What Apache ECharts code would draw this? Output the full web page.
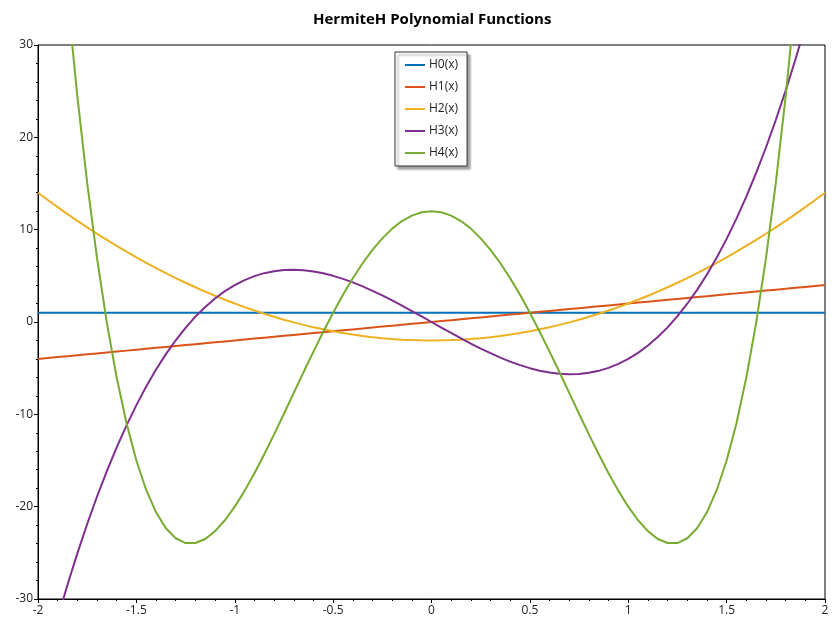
<!DOCTYPE html>
<html>
<head>
<meta charset="utf-8">
<script src="https://cdn.jsdelivr.net/npm/echarts@6/dist/echarts.min.js"></script>
<style>html,body{margin:0;padding:0;background:#fff;}#c{width:840px;height:630px;}</style>
</head>
<body>
<div id="c"></div>
<script>
var xs = [-2,-1.95,-1.9,-1.85,-1.8,-1.75,-1.7,-1.65,-1.6,-1.55,-1.5,-1.45,-1.4,-1.35,-1.3,-1.25,-1.2,-1.15,-1.1,-1.05,-1,-0.95,-0.9,-0.85,-0.8,-0.75,-0.7,-0.65,-0.6,-0.55,-0.5,-0.45,-0.4,-0.35,-0.3,-0.25,-0.2,-0.15,-0.1,-0.05,0,0.05,0.1,0.15,0.2,0.25,0.3,0.35,0.4,0.45,0.5,0.55,0.6,0.65,0.7,0.75,0.8,0.85,0.9,0.95,1,1.05,1.1,1.15,1.2,1.25,1.3,1.35,1.4,1.45,1.5,1.55,1.6,1.65,1.7,1.75,1.8,1.85,1.9,1.95,2];
var h0 = [1,1,1,1,1,1,1,1,1,1,1,1,1,1,1,1,1,1,1,1,1,1,1,1,1,1,1,1,1,1,1,1,1,1,1,1,1,1,1,1,1,1,1,1,1,1,1,1,1,1,1,1,1,1,1,1,1,1,1,1,1,1,1,1,1,1,1,1,1,1,1,1,1,1,1,1,1,1,1,1,1];
var h1 = [-4,-3.9,-3.8,-3.7,-3.6,-3.5,-3.4,-3.3,-3.2,-3.1,-3,-2.9,-2.8,-2.7,-2.6,-2.5,-2.4,-2.3,-2.2,-2.1,-2,-1.9,-1.8,-1.7,-1.6,-1.5,-1.4,-1.3,-1.2,-1.1,-1,-0.9,-0.8,-0.7,-0.6,-0.5,-0.4,-0.3,-0.2,-0.1,0,0.1,0.2,0.3,0.4,0.5,0.6,0.7,0.8,0.9,1,1.1,1.2,1.3,1.4,1.5,1.6,1.7,1.8,1.9,2,2.1,2.2,2.3,2.4,2.5,2.6,2.7,2.8,2.9,3,3.1,3.2,3.3,3.4,3.5,3.6,3.7,3.8,3.9,4];
var h2 = [14,13.21,12.44,11.69,10.96,10.25,9.56,8.89,8.24,7.61,7,6.41,5.84,5.29,4.76,4.25,3.76,3.29,2.84,2.41,2,1.61,1.24,0.89,0.56,0.25,-0.04,-0.31,-0.56,-0.79,-1,-1.19,-1.36,-1.51,-1.64,-1.75,-1.84,-1.91,-1.96,-1.99,-2,-1.99,-1.96,-1.91,-1.84,-1.75,-1.64,-1.51,-1.36,-1.19,-1,-0.79,-0.56,-0.31,-0.04,0.25,0.56,0.89,1.24,1.61,2,2.41,2.84,3.29,3.76,4.25,4.76,5.29,5.84,6.41,7,7.61,8.24,8.89,9.56,10.25,10.96,11.69,12.44,13.21,14];
var h3 = [-40,-35.92,-32.07,-28.45,-25.06,-21.88,-18.9,-16.14,-13.57,-11.19,-9,-6.99,-5.15,-3.48,-1.98,-0.63,0.58,1.63,2.55,3.34,4,4.54,4.97,5.29,5.5,5.63,5.66,5.6,5.47,5.27,5,4.67,4.29,3.86,3.38,2.88,2.34,1.77,1.19,0.6,0,-0.6,-1.19,-1.77,-2.34,-2.88,-3.38,-3.86,-4.29,-4.67,-5,-5.27,-5.47,-5.6,-5.66,-5.63,-5.5,-5.29,-4.97,-4.54,-4,-3.34,-2.55,-1.63,-0.58,0.63,1.98,3.48,5.15,6.99,9,11.19,13.57,16.14,18.9,21.88,25.06,28.45,32.07,35.92,40];
var h4 = [76,60.82,47.23,35.14,24.44,15.06,6.91,-0.09,-6.02,-10.97,-15,-18.19,-20.61,-22.34,-23.42,-23.94,-23.94,-23.5,-22.65,-21.47,-20,-18.29,-16.38,-14.33,-12.17,-9.94,-7.68,-5.42,-3.21,-1.06,1,2.94,4.73,6.36,7.81,9.06,10.11,10.93,11.52,11.88,12,11.88,11.52,10.93,10.11,9.06,7.81,6.36,4.73,2.94,1,-1.06,-3.21,-5.42,-7.68,-9.94,-12.17,-14.33,-16.38,-18.29,-20,-21.47,-22.65,-23.5,-23.94,-23.94,-23.42,-22.34,-20.61,-18.19,-15,-10.97,-6.02,-0.09,6.91,15.06,24.44,35.14,47.23,60.82,76];
var names = ['H0(x)','H1(x)','H2(x)','H3(x)','H4(x)'];
var colors = ['#0072BD','#D95319','#EDB120','#7E2F8E','#77AC30'];
var values = [h0,h1,h2,h3,h4];

function pairs(ys){ return xs.map(function(x,i){ return [x, ys[i]]; }); }

var series = values.map(function(v,i){
  return {
    name: names[i], type: 'line', data: pairs(v), symbol: 'none', clip: true,
    lineStyle: { width: 2, color: colors[i] }, itemStyle: { color: colors[i] },
    emphasis: { disabled: true }
  };
});

var font = '"Open Sans", "Noto Sans", sans-serif';
var chart = echarts.init(document.getElementById('c'), null, { renderer: 'canvas' });
chart.setOption({
  animation: false,
  backgroundColor: '#fff',
  title: {
    text: 'HermiteH Polynomial Functions', left: 308, top: 7,
    textStyle: { fontFamily: font, fontSize: 15, fontWeight: 'bold', color: '#000' }
  },
  legend: {
    orient: 'vertical', left: 395, top: 52,
    data: names.map(function(n){ return { name: n, icon: 'rect' }; }),
    itemWidth: 20, itemHeight: 2, itemGap: 8,
    padding: [6, 9, 6, 10],
    backgroundColor: '#fff', borderColor: '#333', borderWidth: 1, borderRadius: 0,
    shadowColor: 'rgba(0,0,0,0.35)', shadowBlur: 2, shadowOffsetX: 3, shadowOffsetY: 3,
    textStyle: { fontFamily: font, fontSize: 12, lineHeight: 14, color: '#222', padding: [0,0,0,-1] }
  },
  grid: { left: 38, right: 15, top: 45, bottom: 31, show: true, borderColor: '#000', borderWidth: 1, backgroundColor: 'transparent' },
  xAxis: {
    type: 'value', min: -2, max: 2, interval: 0.5,
    axisLine: { show: true, onZero: false, lineStyle: { color: '#000', width: 1 } },
    axisTick: { show: true, length: 4, lineStyle: { color: '#000' } },
    minorTick: { show: true, splitNumber: 5, length: 2, lineStyle: { color: '#000' } },
    splitLine: { show: false },
    axisLabel: { fontFamily: font, fontSize: 12, color: '#222', margin: 6 }
  },
  yAxis: {
    type: 'value', min: -30, max: 30, interval: 10,
    axisLine: { show: true, onZero: false, lineStyle: { color: '#000', width: 1 } },
    axisTick: { show: true, length: 4, lineStyle: { color: '#000' } },
    minorTick: { show: true, splitNumber: 5, length: 2, lineStyle: { color: '#000' } },
    splitLine: { show: false },
    axisLabel: { fontFamily: font, fontSize: 12, color: '#222', margin: 5 }
  },
  series: series
});
</script>
</body>
</html>
